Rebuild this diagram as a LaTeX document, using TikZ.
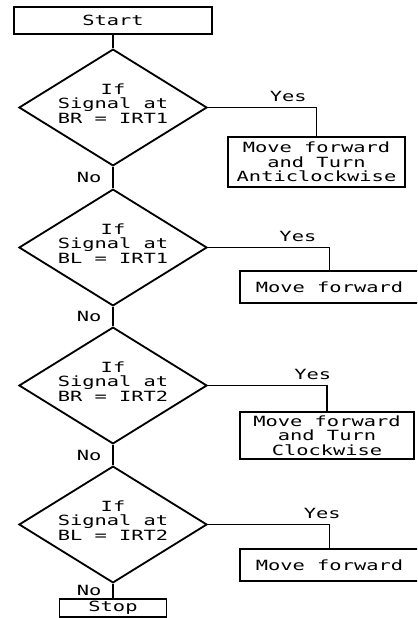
\documentclass[tikz,border=0pt]{standalone}
\usepackage{fontspec}
\newfontfamily\plotfont[FakeStretch=1.45]{DejaVu Sans Mono}
\usetikzlibrary{shapes.geometric, positioning}
\tikzset{every node/.style={align=center}}

\begin{document}
\begin{tikzpicture}[x=0.025cm, y=-0.025cm,
    line width=1.3pt,
    font={\plotfont\fontsize{10}{10.3}\selectfont},
    termbox/.style={draw, inner sep=0pt},
    decision/.style={draw, diamond, aspect=1.6, inner sep=0pt, text depth=0.2cm, minimum width=4.7cm, minimum height=2.9cm},
    action/.style={draw, inner sep=0pt},
    yes/.style={above},
    no/.style={left=0.15cm}
]
  \clip (0,0) rectangle (417,618);
  % Terminals
  \node[termbox, minimum width=4.95cm, minimum height=0.675cm] (start) at (113,20.5) {Start};
  \node[termbox, minimum width=2.675cm, minimum height=0.45cm] (stop) at (113,608) {Stop};
  % Decisions
  \node[decision] (d1) at (113,107.5) {If\\Signal at\\BR = IRT1};
  \node[decision] (d2) at (113,247.5) {If\\Signal at\\BL = IRT1};
  \node[decision] (d3) at (113,385.5) {If\\Signal at\\BR = IRT2};
  \node[decision] (d4) at (113,524.5) {If\\Signal at\\BL = IRT2};
  % Actions
  \node[action, minimum width=4.425cm, minimum height=1.25cm]  (b1) at (316.5,162) {Move forward\\and Turn\\Anticlockwise};
  \node[action, minimum width=4.475cm, minimum height=0.8cm]   (b2) at (329.5,287) {Move forward};
  \node[action, minimum width=4.35cm,  minimum height=1.175cm] (b3) at (327,435.5) {Move forward\\and Turn\\Clockwise};
  \node[action, minimum width=4.475cm, minimum height=0.8cm]   (b4) at (329.5,565) {Move forward};
  % No branches
  \draw (start) -- (d1);
  \draw (d1) -- node[midway, no]{No} (d2);
  \draw (d2) -- node[midway, no]{No} (d3);
  \draw (d3) -- node[midway, no]{No} (d4);
  \draw (d4) -- node[midway, no]{No} (stop);
  % Yes branches
  \draw (d1.east) -| node[pos=0.37, yes]{Yes} (b1.north);
  \draw (d2.east) -| node[pos=0.37, yes]{Yes} (b2.north);
  \draw (d3.east) -| node[pos=0.44, yes]{Yes} (b3.north);
  \draw (d4.east) -| node[pos=0.47, yes]{Yes} (b4.north);
\end{tikzpicture}
\end{document}
